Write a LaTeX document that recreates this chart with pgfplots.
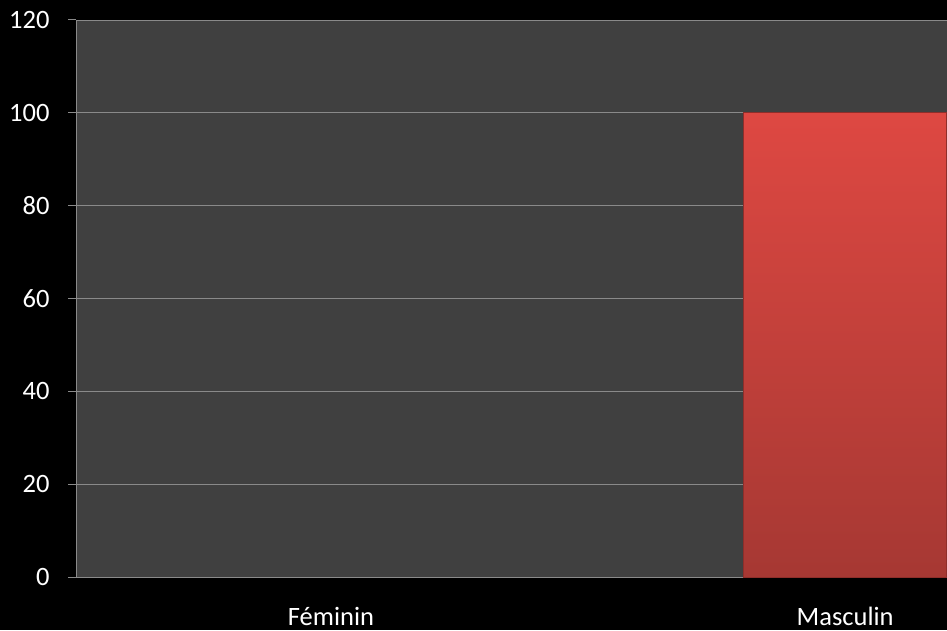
\documentclass[border=0pt]{standalone}
\usepackage{fontspec}
\setmainfont{Carlito}
\usepackage{pgfplots}
\pgfplotsset{compat=1.18}
\definecolor{bgplot}{HTML}{404040}
\definecolor{gridc}{HTML}{8A8A8A}
\definecolor{bartop}{HTML}{DE4842}
\definecolor{barbot}{HTML}{A63833}
\definecolor{baredge}{HTML}{8E2E2A}
\begin{document}
\begin{tikzpicture}
\fill[black] (0,0) rectangle (947pt,630pt);
\begin{scope}[overlay]
\begin{axis}[
  at={(76pt,53pt)}, anchor=south west,
  scale only axis, width=871pt, height=557pt,
  xmin=-0.496, xmax=1.198, ymin=0, ymax=120,
  ytick={0,20,...,120},
  xtick={0,1}, xticklabels={Féminin,Masculin},
  major x tick style={draw=none},
  extra x ticks={-0.496,0.5}, extra x tick labels={},
  extra x tick style={major tick length=9pt, tick style={draw=gridc, line width=1pt}, grid=none},
  tick align=outside,
  major tick length=8pt,
  ytick style={draw=gridc, line width=1pt},
  ymajorgrids, grid style={draw=gridc, line width=0.8pt},
  axis line style={draw=gridc, line width=1pt},
  axis x line*=bottom, axis y line*=left,
  axis background/.style={fill=bgplot},
  /pgf/number format/assume math mode=true,
  tick label style={font=\fontsize{26.5}{30}\selectfont, text=white},
  yticklabel style={anchor=east, xshift=-15pt},
  xticklabel style={anchor=base, yshift=-40pt},
  ybar, bar width=0.395, bar shift=0pt,
]
\addplot[draw=baredge, line width=1pt, top color=bartop, bottom color=barbot] coordinates {(1,100)};
\end{axis}
\end{scope}
\end{tikzpicture}
\end{document}
